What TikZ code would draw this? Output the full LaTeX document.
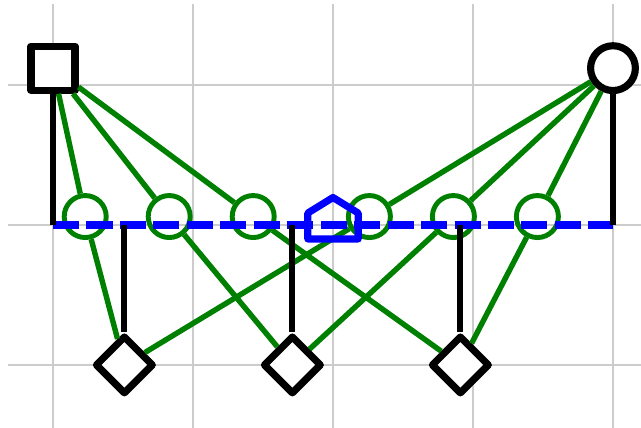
\documentclass[tikz,border=0pt]{standalone}
\usetikzlibrary{shapes.geometric}
\begin{document}
\begin{tikzpicture}[
  gridline/.style={draw=gray!40, line width=0.4pt},
  greenln/.style={draw=green!50!black, line width=1.1pt},
  kid/.style={circle, draw=green!50!black, line width=1pt, minimum size=0.3cm, inner sep=0pt},
  stem/.style={draw=black, line width=1.25pt},
  union/.style={draw=blue, line width=1.5pt, dash pattern=on 5.3pt off 1.5pt},
  malebox/.style={rectangle, draw=black, fill=white, line width=1.45pt, minimum size=0.314cm, inner sep=0pt, line join=round},
  femalebox/.style={circle, draw=black, fill=white, line width=1.45pt, minimum size=0.32cm, inner sep=0pt},
  childbox/.style={diamond, draw=black, fill=white, line width=1.45pt, minimum size=0.42cm, inner sep=0pt, line join=round},
  pentbox/.style={draw=blue, line width=1.45pt, line join=round}
]
\useasboundingbox (-0.3786,-0.45) rectangle (4.2,2.607);
\foreach \x in {0,...,4} \draw[gridline] (\x,-0.5) -- (\x,2.58);
\foreach \y in {0,1,2} \draw[gridline] (-0.32,\y) -- (4.3,\y);

% green kid circles
\node[kid] (c1) at (0.23,1.06) {};
\node[kid] (c2) at (0.83,1.06) {};
\node[kid] (c3) at (1.43,1.06) {};
\node[kid] (c4) at (2.26,1.06) {};
\node[kid] (c5) at (2.86,1.06) {};
\node[kid] (c6) at (3.46,1.06) {};

% parents and children
\node[malebox] (sq) at (0,2.12) {};
\node[femalebox] (ci) at (4,2.12) {};
\node[childbox] (d1) at (0.51,0) {};
\node[childbox] (d2) at (1.71,0) {};
\node[childbox] (d3) at (2.91,0) {};

% coordinates on the union line
\coordinate (L) at (0,1);
\coordinate (R) at (4,1);
\coordinate (k1) at (0.51,1);
\coordinate (k2) at (1.71,1);
\coordinate (k3) at (2.91,1);
\coordinate (pent) at (2,1.05);

% green connectors
\draw[greenln] (sq) -- (c1);
\draw[greenln] (sq) -- (c2);
\draw[greenln] (sq) -- (c3);
\draw[greenln] (ci) -- (c4);
\draw[greenln] (ci) -- (c5);
\draw[greenln] (ci) -- (c6);
\draw[greenln] (c1) -- (d1);
\draw[greenln] (c2) -- (d2);
\draw[greenln] (c3) -- (d3);
\draw[greenln] (c4) -- (d1);
\draw[greenln] (c5) -- (d2);
\draw[greenln] (c6) -- (d3);

% union line
\draw[union] (L) -- (R);

% pentagon
\draw[pentbox, shift={(pent)}] (-0.18,-0.15) -- (0.18,-0.15) -- (0.18,0.035) -- (0,0.146) -- (-0.18,0.035) -- cycle;

% black stems
\draw[stem] (sq) -- (L);
\draw[stem] (ci) -- (R);
\draw[stem] (k1) -- (d1);
\draw[stem] (k2) -- (d2);
\draw[stem] (k3) -- (d3);
\end{tikzpicture}
\end{document}
